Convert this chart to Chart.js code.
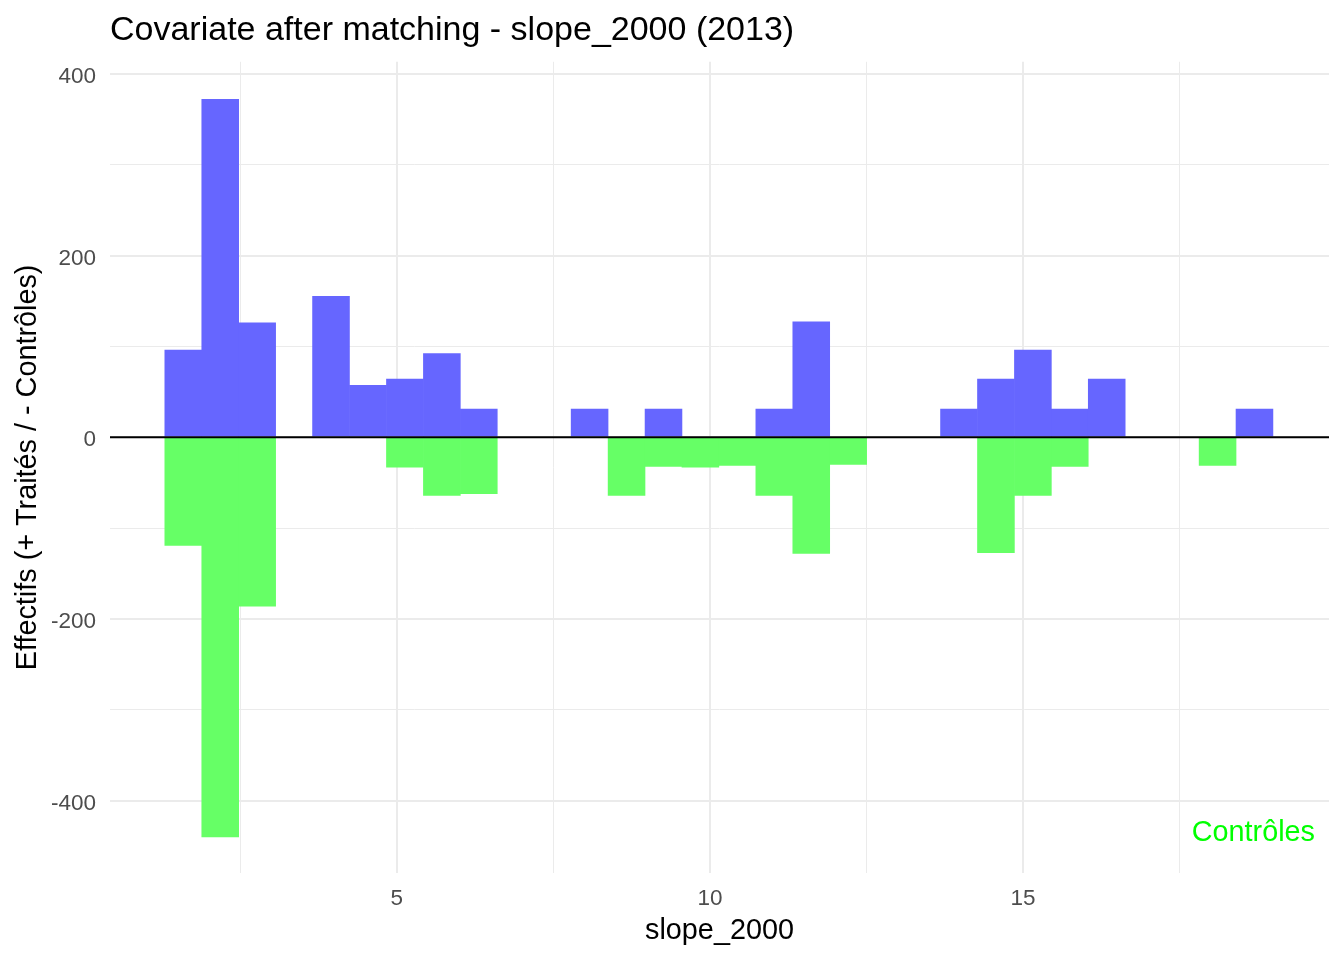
<!DOCTYPE html>
<html lang="fr">
<head>
<meta charset="utf-8">
<title>Covariate after matching - slope_2000 (2013)</title>
<script src="https://cdn.jsdelivr.net/npm/chart.js@4/dist/chart.umd.min.js"></script>
<style>
    html, body { margin: 0; padding: 0; background: #ffffff; }
    .chart-wrap { position: relative; width: 1344px; height: 960px; }
</style>
</head>
<body>
<div class="chart-wrap">
    <canvas id="histCanvas"></canvas>
</div>
<script>
// Histogram bins (centres of the 30 bins of slope_2000)
const binCenters = [
    1.591, 2.181, 2.771, 3.360, 3.950, 4.540, 5.130, 5.720, 6.310, 6.899,
    7.489, 8.079, 8.669, 9.259, 9.848, 10.438, 11.028, 11.618, 12.208, 12.797,
    13.387, 13.977, 14.567, 15.157, 15.746, 16.336, 16.926, 17.516, 18.106, 18.695
];

// Counts per bin: treated upwards, controls downwards
const treatedCounts = [
    96, 372, 126, 0, 155, 57, 64, 92, 31, 0,
    0, 31, 0, 31, 0, 0, 31, 127, 0, 0,
    0, 31, 64, 96, 31, 64, 0, 0, 0, 31
];
const controlCounts = [
    -119, -440, -186, 0, 0, 0, -33, -64, -62, 0,
    0, 0, -64, -32, -33, -31, -64, -128, -30, 0,
    0, 0, -127, -64, -32, 0, 0, 0, -31, 0
];

// Axis ticks (labelled ones and minor grid ones)
const xTicks = [2.5, 5, 7.5, 10, 12.5, 15, 17.5];
const xLabelled = [5, 10, 15];
const yTicks = [-400, -300, -200, -100, 0, 100, 200, 300, 400];
const yLabelled = [-400, -200, 0, 200, 400];

const FONT = '"Liberation Sans", Arial, Helvetica, sans-serif';

document.addEventListener('DOMContentLoaded', () => {
    const canvas = document.getElementById('histCanvas');
    const ctx = canvas.getContext('2d');

    // Black line at zero and the "Contrôles" annotation
    const zeroLinePlugin = {
        id: 'zeroLine',
        afterDatasetsDraw(chart) {
            const { ctx, chartArea, scales } = chart;
            const y0 = scales.y.getPixelForValue(0);
            ctx.save();
            ctx.strokeStyle = '#000000';
            ctx.lineWidth = 2;
            ctx.beginPath();
            ctx.moveTo(chartArea.left, y0);
            ctx.lineTo(chartArea.right, y0);
            ctx.stroke();

            ctx.fillStyle = '#00ff00';
            ctx.font = '28.8px ' + FONT;
            ctx.textAlign = 'right';
            ctx.textBaseline = 'alphabetic';
            ctx.fillText('Contrôles', chartArea.right - 14, chartArea.bottom - 32);
            ctx.restore();
        }
    };

    // Blue / green at 60% opacity over white, drawn solid so adjoining bins show no seam
    const chartData = {
        datasets: [
            {
                label: 'Traités',
                data: binCenters.map((x, i) => ({ x: x, y: treatedCounts[i] })),
                backgroundColor: '#6666ff',
                borderWidth: 0,
                grouped: false,
                barPercentage: 1,
                categoryPercentage: 1
            },
            {
                label: 'Contrôles',
                data: binCenters.map((x, i) => ({ x: x, y: controlCounts[i] })),
                backgroundColor: '#66ff66',
                borderWidth: 0,
                grouped: false,
                barPercentage: 1,
                categoryPercentage: 1
            }
        ]
    };

    new Chart(ctx, {
        type: 'bar',
        data: chartData,
        plugins: [zeroLinePlugin],
        options: {
            responsive: true,
            maintainAspectRatio: false,
            animation: false,
            layout: { padding: { left: 0, right: 15, top: 0, bottom: 0 } },
            plugins: {
                legend: { display: false },
                tooltip: { enabled: false },
                title: {
                    display: true,
                    text: 'Covariate after matching - slope_2000 (2013)',
                    align: 'start',
                    fullSize: false,
                    color: '#000000',
                    font: { family: FONT, size: 34, weight: 'normal', lineHeight: 1.2 },
                    padding: { top: 10, bottom: 11 }
                }
            },
            scales: {
                x: {
                    type: 'linear',
                    min: 0.421,
                    max: 19.885,
                    offset: false,
                    afterBuildTicks: (scale) => {
                        scale.ticks = xTicks.map(v => ({ value: v }));
                    },
                    afterFit: (scale) => { scale.height = 87; },
                    ticks: {
                        autoSkip: false,
                        maxRotation: 0,
                        padding: 12,
                        color: '#4d4d4d',
                        font: { family: FONT, size: 22.5 },
                        callback: (value) => xLabelled.includes(value) ? String(value) : ''
                    },
                    grid: {
                        color: '#ebebeb',
                        lineWidth: (c) => (c.tick && xLabelled.includes(c.tick.value)) ? 2 : 1,
                        drawTicks: false,
                        offset: false
                    },
                    border: { display: false },
                    title: {
                        display: true,
                        text: 'slope_2000',
                        color: '#000000',
                        font: { family: FONT, size: 28.8, lineHeight: 1.2 },
                        padding: { top: 0, bottom: 12 }
                    }
                },
                y: {
                    min: -479.6,
                    max: 413.2,
                    afterBuildTicks: (scale) => {
                        scale.ticks = yTicks.map(v => ({ value: v }));
                    },
                    afterFit: (scale) => { scale.width = 110; },
                    ticks: {
                        autoSkip: false,
                        padding: 14,
                        labelOffset: 3,
                        color: '#4d4d4d',
                        font: { family: FONT, size: 22.5 },
                        callback: (value) => yLabelled.includes(value) ? String(value) : ''
                    },
                    grid: {
                        color: '#ebebeb',
                        lineWidth: (c) => (c.tick && yLabelled.includes(c.tick.value)) ? 2 : 1,
                        drawTicks: false
                    },
                    border: { display: false },
                    title: {
                        display: true,
                        text: 'Effectifs (+ Traités / - Contrôles)',
                        color: '#000000',
                        font: { family: FONT, size: 28.8, lineHeight: 1.2 },
                        padding: { top: 11, bottom: 0 }
                    }
                }
            }
        }
    });
});
</script>
</body>
</html>
